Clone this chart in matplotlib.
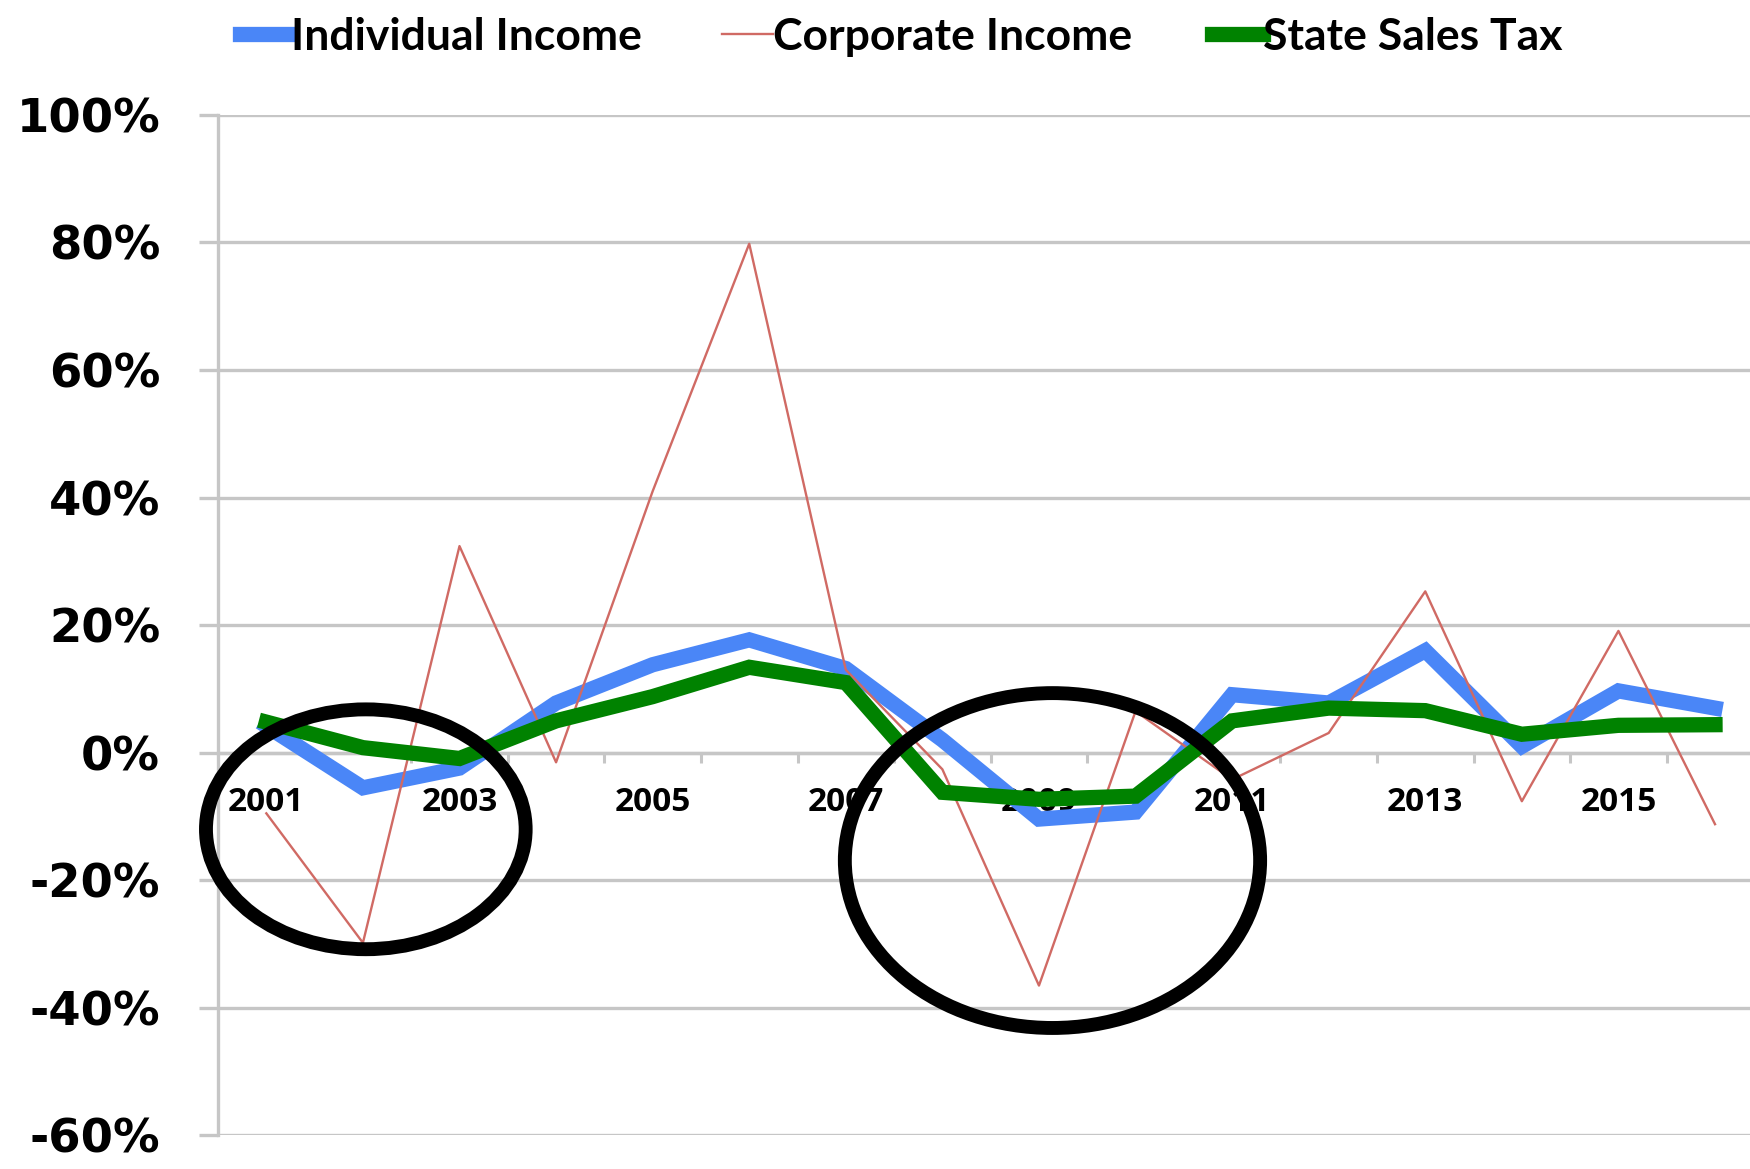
import matplotlib.pyplot as plt
from matplotlib.patches import Ellipse
from matplotlib.ticker import FixedLocator, FuncFormatter

# data (annual % change)
years = list(range(2001, 2017))
individual = [4.2, -5.5, -2.4, 7.8, 13.8, 17.7, 13.2, 2.0, -10.4, -9.3, 9.1, 7.8, 16.0, 1.0, 9.7, 7.0]
corporate = [-9.5, -29.8, 32.4, -1.5, 41.0, 79.8, 13.0, -2.6, -36.5, 6.5, -4.2, 3.1, 25.3, -7.6, 19.1, -11.2]
state_sales = [4.8, 0.8, -0.9, 5.0, 8.8, 13.4, 11.0, -6.2, -7.3, -6.8, 5.0, 7.0, 6.6, 2.9, 4.3, 4.4]
series_names = ["Individual Income", "Corporate Income", "State Sales Tax"]
label_years = [2001, 2003, 2005, 2007, 2009, 2011, 2013, 2015]
y_ticks = [-60, -40, -20, 0, 20, 40, 60, 80, 100]

# hand-drawn circles: (center year, center %, width in years, height in %)
circles = [(2002.03, -12.0, 3.31, 37.6), (2009.14, -16.9, 4.3, 52.5)]

grid_c = "#c6c6c6"

fig = plt.figure(figsize=(17.5, 11.69), dpi=100)
ax = fig.add_axes([0.1246, 0.0287, 0.883, 0.873])

ax.plot(years, individual, color="#4a86f7", lw=11, solid_joinstyle="miter", zorder=3, label=series_names[0])
ax.plot(years, corporate, color="#d06a64", lw=1.7, zorder=3, label=series_names[1])
ax.plot(years, state_sales, color="#008200", lw=11, solid_joinstyle="miter", zorder=3, label=series_names[2])

for cx, cy, w, h in circles:
    ax.add_patch(Ellipse((cx, cy), w, h, fill=False, ec="black", lw=10, zorder=6, clip_on=False))

ax.set_xlim(2000.5, 2016.5)
ax.set_ylim(-60, 100)

# y axis
ax.set_yticks(y_ticks)
ax.yaxis.set_major_formatter(FuncFormatter(lambda v, p: f"{v:.0f}%"))
ax.tick_params(axis="y", direction="out", length=13.7, width=2.4, color=grid_c, pad=28,
               labelsize=33.5)
for t in ax.get_yticklabels():
    t.set_fontweight("bold")
ax.yaxis.grid(True, color=grid_c, lw=2.4)
ax.set_axisbelow(True)

# x axis crosses at 0
ax.spines["bottom"].set_position(("data", 0))
ax.spines["bottom"].set_color(grid_c)
ax.spines["bottom"].set_linewidth(2.4)
ax.spines["left"].set_color(grid_c)
ax.spines["left"].set_linewidth(2.4)
ax.spines["top"].set_visible(False)
ax.spines["right"].set_visible(False)

ax.set_xticks(label_years)
ax.set_xticklabels([str(y) for y in label_years], fontfamily="Open Sans", fontweight="bold", fontsize=24)
ax.xaxis.set_minor_locator(FixedLocator([y + 0.5 for y in years[:-1]]))
ax.tick_params(axis="x", which="major", length=0, pad=24)
ax.tick_params(axis="x", which="minor", direction="out", length=7, width=2.2, color=grid_c)

fig.legend(loc="upper center", bbox_to_anchor=(0.515, 1.02), ncol=3, frameon=False,
           prop={"family": "Lato", "weight": "bold", "size": 32}, handlelength=1.15,
           handletextpad=0.0, columnspacing=1.8)

fig.savefig("out.png", dpi=100)
